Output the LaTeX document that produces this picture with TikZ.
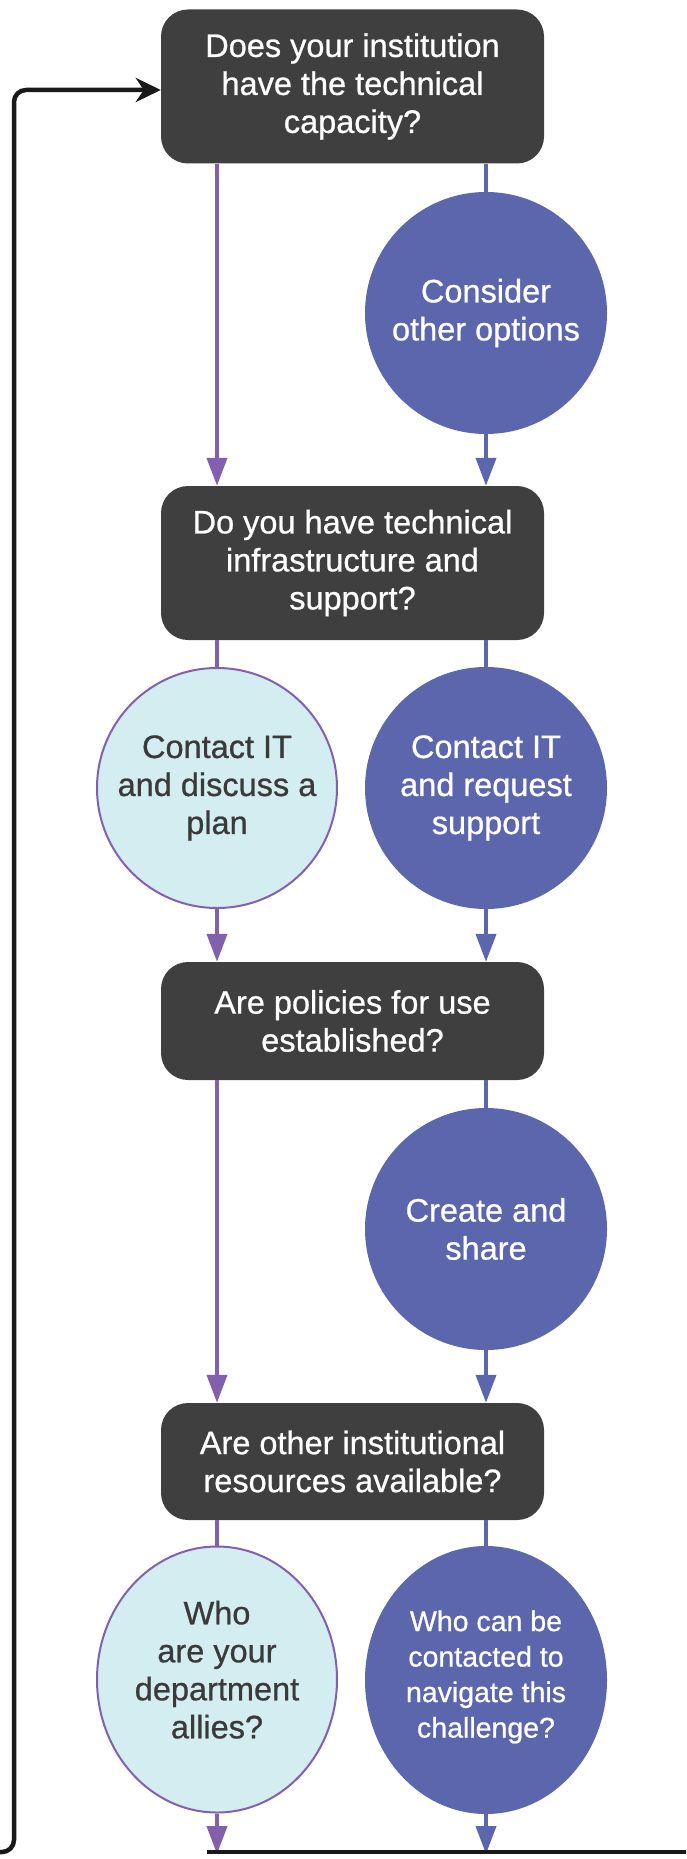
\documentclass[tikz,border=0pt]{standalone}
\usepackage{fontspec}
\setmainfont{Liberation Sans}[FakeBold=0.7]
\usepackage{tikz}
\usetikzlibrary{arrows.meta}
\usetikzlibrary{shapes.geometric}

\definecolor{boxgray}{HTML}{3F3F3F}
\definecolor{yespurple}{HTML}{8360AE}
\definecolor{noblue}{HTML}{5B66AD}
\definecolor{paleblue}{HTML}{D4EDF1}
\definecolor{textgray}{HTML}{3A3A3A}

\tikzset{
    question/.style = {rectangle, rounded corners = 27pt, fill = boxgray,
        text = white, minimum width = 383pt, align = center,
        font = \fontsize{32.5pt}{38pt}\selectfont},
    yesnode/.style = {circle, draw = yespurple, line width = 2pt, fill = paleblue,
        text = textgray, minimum size = 240pt, inner sep = 0pt, align = center,
        font = \fontsize{32.5pt}{38pt}\selectfont},
    nonode/.style = {circle, fill = noblue, text = white, minimum size = 242pt,
        inner sep = 0pt, align = center,
        font = \fontsize{32.5pt}{38pt}\selectfont},
    yesline/.style = {draw = yespurple, line width = 4pt},
    noline/.style = {draw = noblue, line width = 4pt},
    tip/.style = {-{Triangle[length = 28pt, width = 20pt]}},
    loopline/.style = {draw = black!90, line width = 4.5pt, rounded corners = 12pt}
}

\begin{document}
\begin{tikzpicture}[x = 1pt, y = -1pt]
        \useasboundingbox (0, 0) rectangle (686, 1859);
        \clip (0, 0) rectangle (686, 1859);

        \node[question, minimum height = 154pt] (q1) at (352.5, 86.5)
            {Does your institution\\have the technical\\capacity?};
        \node[nonode] (n1) at (486, 313) {Consider\\other options};

        \node[question, minimum height = 154pt] (q2) at (352.5, 563)
            {Do you have technical\\infrastructure and\\support?};
        \node[yesnode] (y2) at (217, 788) {Contact IT\\and discuss a\\plan};
        \node[nonode] (n2) at (486, 788) {Contact IT\\and request\\support};

        \node[question, minimum height = 118pt] (q3) at (352.5, 1021)
            {Are policies for use\\established?};
        \node[nonode] (n3) at (486, 1229) {Create and\\share};

        \node[question, minimum height = 117pt] (q4) at (352.5, 1461.5)
            {Are other institutional\\resources available?};
        \node[yesnode, ellipse, minimum width = 240pt, minimum height = 266pt] (y4) at (217, 1679.5)
            {Who\\are your\\department\\allies?\\[-18pt]};
        \node[nonode, ellipse, minimum width = 242pt, minimum height = 268pt,
            font = \fontsize{28.5pt}{35.5pt}\selectfont] (n4) at (486, 1680)
            {Who can be\\contacted to\\navigate this\\challenge?\\[-23.5pt]};

        \coordinate (back) at (207, 1852);
        \coordinate (out) at (700, 1852);
        \coordinate (left) at (-30, 1852);

        \draw[yesline, tip] (q1.south -| y2) -- (q2.north -| y2);
        \draw[noline] (q1.south -| n1) -- (n1);
        \draw[noline, tip] (n1) -- (q2.north -| n1);

        \draw[yesline] (q2.south -| y2) -- (y2);
        \draw[yesline, tip] (y2) -- (q3.north -| y2);
        \draw[noline] (q2.south -| n2) -- (n2);
        \draw[noline, tip] (n2) -- (q3.north -| n2);

        \draw[yesline, tip] (q3.south -| y2) -- (q4.north -| y2);
        \draw[noline] (q3.south -| n3) -- (n3);
        \draw[noline, tip] (n3) -- (q4.north -| n3);

        \draw[yesline] (q4.south -| y4) -- (y4);
        \draw[yesline, tip] (y4) -- ([yshift = -2pt]back -| y4);
        \draw[noline] (q4.south -| n4) -- (n4);
        \draw[noline, tip] (n4) -- ([yshift = -2pt]back -| n4);

        % loop back to the first question
        \draw[loopline] (back) -- (out);
        \draw[loopline, -{Stealth[length = 25pt, width = 24pt, inset = 8pt]}]
            (left) -| (14, 90) -- (q1.west |- 0, 90);
    \end{tikzpicture}
\end{document}
